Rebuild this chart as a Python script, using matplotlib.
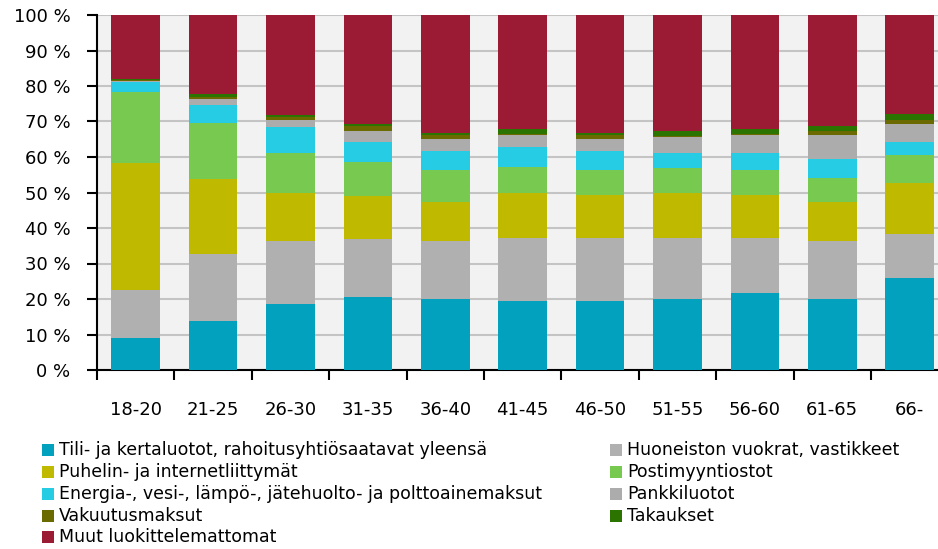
import matplotlib
matplotlib.use("Agg")
import matplotlib.pyplot as plt
from matplotlib.patches import Rectangle
import numpy as np

plt.rcParams['font.family'] = ['DejaVu Sans']

categories = ["18-20", "21-25", "26-30", "31-35", "36-40", "41-45",
              "46-50", "51-55", "56-60", "61-65", "66-"]

series_names = [
    "Tili- ja kertaluotot, rahoitusyhtiösaatavat yleensä",
    "Huoneiston vuokrat, vastikkeet",
    "Puhelin- ja internetliittymät",
    "Postimyyntiostot",
    "Energia-, vesi-, lämpö-, jätehuolto- ja polttoainemaksut",
    "Pankkiluotot",
    "Vakuutusmaksut",
    "Takaukset",
    "Muut luokittelemattomat",
]

tili      = [9.0, 13.7, 18.5, 20.5, 20.0, 19.5, 19.5, 20.0, 21.6, 20.0, 25.8]
huoneisto = [13.6, 18.9, 17.8, 16.3, 16.3, 17.8, 17.8, 17.3, 15.7, 16.3, 12.6]
puhelin   = [35.8, 21.1, 13.7, 12.2, 11.1, 12.7, 12.1, 12.7, 12.1, 11.1, 14.2]
posti     = [20.0, 15.8, 11.0, 9.5, 8.9, 7.3, 6.9, 6.8, 6.9, 6.7, 7.9]
energia   = [2.6, 5.2, 7.4, 5.7, 5.3, 5.4, 5.3, 4.2, 4.7, 5.3, 3.7]
pankki    = [0.3, 1.6, 2.0, 3.1, 3.6, 3.6, 3.6, 4.7, 5.3, 6.9, 5.2]
vakuutus  = [0.5, 0.7, 0.9, 1.4, 1.0, 0.3, 1.0, 0.3, 0.3, 1.0, 1.0]
takaukset = [0.2, 0.8, 0.6, 0.7, 0.7, 1.2, 0.7, 1.4, 1.2, 1.5, 1.6]
muut      = [18.0, 22.2, 28.0, 30.6, 33.1, 32.2, 33.1, 32.6, 32.2, 31.2, 28.0]

colors = ["#02a2bf", "#b0b0b0", "#bfba00", "#77c94f", "#26cce4",
          "#acacac", "#6a6a00", "#2b7400", "#9c1b34"]

ytick_vals = list(range(0, 101, 10))
ytick_labels = [f"{v} %" for v in ytick_vals]

data = [tili, huoneisto, puhelin, posti, energia, pankki, vakuutus, takaukset, muut]

fig = plt.figure(figsize=(9.38, 5.49), dpi=100)
ax = fig.add_axes([97/938, (549-370)/549, 1 - 97/938, (370-15)/549])
ax.set_facecolor("#f2f2f2")

x = np.arange(len(categories))
bottom = np.zeros(len(categories))
for vals, col in zip(data, colors):
    v = np.array(vals)
    ax.bar(x, v, bottom=bottom, width=0.63, color=col, edgecolor="none", zorder=3)
    bottom += v

ax.set_ylim(0, 100)
ax.set_xlim(-0.5, -0.5 + 841 / 77.4)
ax.set_yticks(ytick_vals)
ax.set_yticklabels(ytick_labels, fontsize=13)
ax.yaxis.grid(True, color="#c4c4c4", linewidth=1.5, zorder=1)
ax.set_axisbelow(True)

ax.set_xticks(x)
ax.set_xticklabels(categories, fontsize=13)
ax.tick_params(axis="x", which="major", length=0, pad=22)
ax.set_xticks(np.arange(-0.5, 10.0, 1.0), minor=True)
ax.tick_params(axis="x", which="minor", length=7, width=1.5, direction="out", color="black")
ax.tick_params(axis="y", length=7, width=1.5, direction="out", pad=12)

for s in ["top", "right"]:
    ax.spines[s].set_visible(False)
for s in ["left", "bottom"]:
    ax.spines[s].set_linewidth(1.5)
    ax.spines[s].set_color("black")

# legend (two columns, row-major order)
W, H = 938, 549
rows_y = [450, 472, 494, 516, 537]
col_x = [42, 610]
for i, (name, col) in enumerate(zip(series_names, colors)):
    r, c = divmod(i, 2)
    yc = rows_y[r]
    mx = col_x[c]
    fig.patches.append(Rectangle((mx / W, 1 - (yc + 6) / H), 12 / W, 12 / H,
                                 transform=fig.transFigure, facecolor=col,
                                 edgecolor="none"))
    fig.text((mx + 17) / W, 1 - yc / H, name, fontsize=12.5, va="center", ha="left")

fig.savefig("out.png", dpi=100)
